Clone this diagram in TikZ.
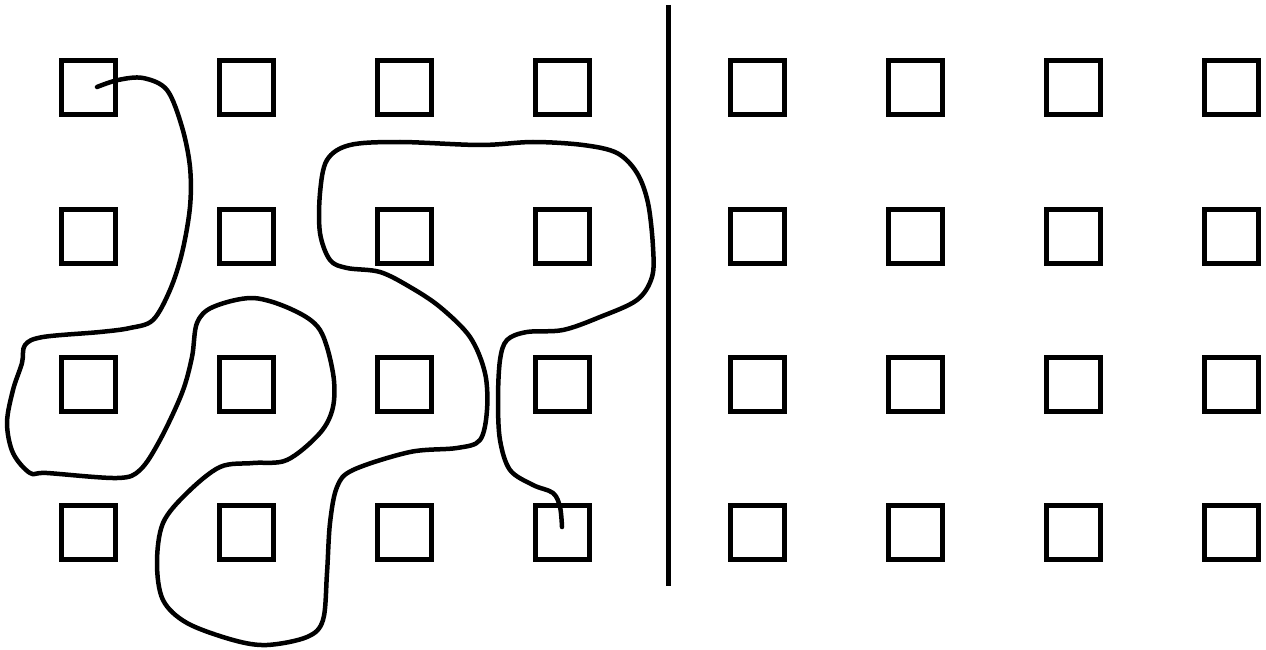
\documentclass[tikz,border=0pt]{standalone}
\begin{document}
\begin{tikzpicture}[x=1pt,y=-1pt,
  cell/.style={draw=black,line width=5pt,minimum size=54pt,inner sep=0pt,fill=none},
  wall/.style={line width=5pt},
  wire/.style={line width=4.5pt,line cap=round,line join=round}]
\useasboundingbox (0,0) rectangle (1266,650);
\foreach \c/\x in {1/88,2/246,3/404,4/562,5/757,6/915,7/1073,8/1231}{
  \foreach \r/\y in {1/88,2/236,3/384,4/532}{
    \node[cell] (s\c\r) at (\x,\y) {};
  }
}
\coordinate (wt) at (668,5);
\coordinate (wb) at (668,586);
\draw[wall] (wt) -- (wb);
\draw[wire] plot[smooth,tension=0.55] coordinates {
(97,87) (118,80) (143,78) (167,90) (182,127) (190,167) (190,207) (182,253) (170,290) (153,320) (130,328) (100,332) (43,337) (25,345) (22,363) (13,390) (7,423) (13,453) (30,473) (47,473) (117,478) (140,470) (160,440) (182,393) (192,357) (197,323) (213,307) (253,298) (293,310) (320,330) (333,373) (333,407) (320,433) (287,460) (253,463) (220,467) (187,493) (163,523) (157,563) (163,600) (187,623) (233,640) (267,645) (307,637) (323,620) (327,573) (330,523) (337,487) (353,470) (410,452) (457,448) (480,440) (487,410) (485,373) (470,337) (440,307) (410,287) (380,272) (347,268) (330,260) (320,233) (320,193) (327,160) (350,145) (400,142) (480,145) (533,142) (583,145) (617,153) (637,173) (648,203) (653,247) (652,277) (637,300) (600,317) (563,330) (527,332) (507,340) (500,360) (498,400) (500,440) (510,470) (533,485) (553,493) (560,507) (562,527)};
\end{tikzpicture}
\end{document}
